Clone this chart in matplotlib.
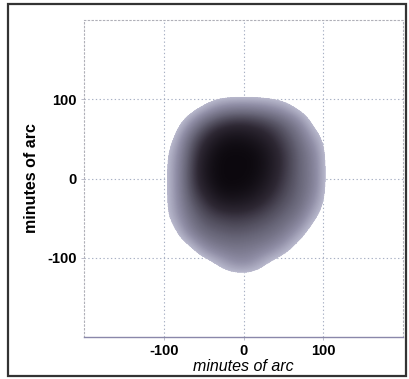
import numpy as np
import matplotlib
matplotlib.use("Agg")
import matplotlib.pyplot as plt
from matplotlib.colors import LinearSegmentedColormap
from matplotlib.patches import Rectangle

# Grid cell centres (minutes of arc)
x_centers = [-110, -90, -70, -50, -30, -10, 10, 30, 50, 70, 90, 110]
y_centers = [110, 90, 70, 50, 30, 10, -10, -30, -50, -70, -90, -110, -130]

# Darkness (0 = white, 1 = black), rows top to bottom
row_y110 = [0, 0, 0, 0, 0, 0, 0, 0, 0, 0, 0, 0]
row_y90 = [0, 0, 0, 0.12, 0.28, 0.32, 0.32, 0.28, 0.2, 0.05, 0, 0]
row_y70 = [0, 0, 0.22, 0.5, 0.65, 0.72, 0.7, 0.62, 0.5, 0.33, 0.04, 0]
row_y50 = [0, 0.08, 0.45, 0.72, 0.9, 0.95, 0.9, 0.8, 0.62, 0.45, 0.22, 0]
row_y30 = [0, 0.18, 0.52, 0.85, 1.0, 1.0, 1.0, 0.9, 0.7, 0.5, 0.33, 0]
row_y10 = [0, 0.2, 0.55, 0.9, 1.0, 1.0, 1.0, 0.9, 0.7, 0.5, 0.35, 0]
row_ym10 = [0, 0.2, 0.55, 0.85, 1.0, 1.0, 0.97, 0.85, 0.65, 0.5, 0.35, 0]
row_ym30 = [0, 0.2, 0.5, 0.7, 0.88, 0.9, 0.85, 0.72, 0.58, 0.48, 0.28, 0]
row_ym50 = [0, 0.18, 0.42, 0.58, 0.65, 0.68, 0.65, 0.58, 0.5, 0.4, 0.14, 0]
row_ym70 = [0, 0.04, 0.33, 0.48, 0.52, 0.55, 0.52, 0.48, 0.4, 0.22, 0, 0]
row_ym90 = [0, 0, 0.04, 0.3, 0.4, 0.42, 0.4, 0.35, 0.22, 0.03, 0, 0]
row_ym110 = [0, 0, 0, 0, 0.16, 0.3, 0.28, 0.1, 0, 0, 0, 0]
row_ym130 = [0, 0, 0, 0, 0, 0, 0, 0, 0, 0, 0, 0]

darkness = np.array([row_y110, row_y90, row_y70, row_y50, row_y30, row_y10,
                     row_ym10, row_ym30, row_ym50, row_ym70, row_ym90,
                     row_ym110, row_ym130])

tick_values = [-100, 0, 100]
tick_labels = ["-100", "0", "100"]
axis_label = "minutes of arc"

plt.rcParams['font.family'] = ['Liberation Sans', 'DejaVu Sans']

fig = plt.figure(figsize=(4.09, 3.79), dpi=100)
fig.patch.set_facecolor('white')
fig.patches.append(Rectangle((8 / 409, 1 - 376 / 379), 398 / 409, 372 / 379,
                             transform=fig.transFigure, fill=False,
                             edgecolor='#333333', linewidth=1.6, zorder=10))

ax = fig.add_axes([84 / 409, 1 - 337 / 379, 319 / 409, 317 / 379])

cmap = LinearSegmentedColormap.from_list('disc', [
    (0.0, (1, 1, 1, 0)), (0.14, (1, 1, 1, 0)),
    (0.15, '#b8b8cc'), (0.3, '#908ea6'), (0.5, '#686678'),
    (0.75, '#2e2834'), (1.0, '#0c080e')])

dx = 10
ax.imshow(darkness, cmap=cmap, vmin=0, vmax=1, interpolation='bicubic',
          interpolation_stage='data',
          extent=[x_centers[0] - dx, x_centers[-1] + dx,
                  y_centers[-1] - dx, y_centers[0] + dx],
          origin='upper', aspect='auto', zorder=1)

ax.set_xlim(-200, 200)
ax.set_ylim(-200, 200)
ax.set_xticks(tick_values)
ax.set_yticks(tick_values)
ax.set_xticklabels(tick_labels, fontsize=10.5, fontweight='bold')
ax.set_yticklabels(tick_labels, fontsize=10.5, fontweight='bold')
ax.tick_params(length=2, width=0.6, color='#b0b0c0', pad=3)
ax.grid(True, linestyle=(0, (1.2, 2.2)), color='#a8b0c4', linewidth=0.8, zorder=0)
ax.set_axisbelow(True)

for side in ['left', 'top', 'right']:
    ax.spines[side].set_linestyle((0, (1.2, 2.2)))
    ax.spines[side].set_color('#b0b0b8')
    ax.spines[side].set_linewidth(0.8)
ax.spines['bottom'].set_color('#8a88aa')
ax.spines['bottom'].set_linewidth(1.0)

ax.set_xlabel(axis_label, fontsize=11.5, fontstyle='italic', labelpad=1)
ax.set_ylabel(axis_label, fontsize=11.5, fontweight='bold', labelpad=6)

fig.savefig('out.png', dpi=100)
